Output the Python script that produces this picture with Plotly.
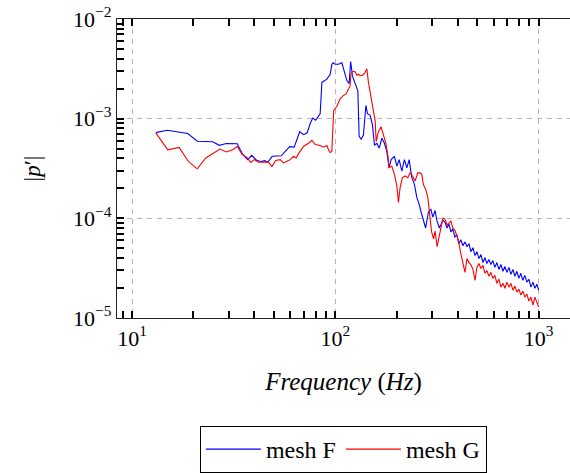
import plotly.graph_objects as go

# ---------------- data ----------------
freq_F = [13.09, 14.91, 18.80, 20.94, 24.95, 26.85, 29.06, 32.91, 35.03, 37.07,
          38.79, 40.96, 42.95, 44.94, 46.49, 48.92, 54.17, 56.36, 59.63, 62.75,
          66.76, 69.85, 72.67, 75.19, 77.35, 80.02, 84.20, 85.84, 90.83, 94.29,
          96.11, 97.54, 99.77, 103.56, 105.58, 107.62, 109.22, 111.10, 113.64, 116.90,
          118.91, 121.34, 125.11, 129.0, 130.9, 133.9, 137.4, 141.3, 143.8, 148.3,
          152.2, 155.7, 160.0, 164.2, 169.3, 174.3, 179.1, 183.8, 188.0, 195.2,
          200.6, 205.9, 212.3, 218.6, 224.7, 230.6, 237.7, 244.8, 251.5, 258.2,
          264.1, 271.0, 277.9, 286.8, 294.7, 301.4, 309.4, 315.4, 324.8,
          330, 338, 346, 354, 362, 370, 378, 387, 396, 405,
          414, 424, 434, 444, 454, 464, 475, 486, 497, 508,
          520, 532, 544, 556, 569, 582, 595, 609, 623, 637,
          652, 667, 682, 698, 714, 730, 747, 764, 781, 799,
          817, 836, 855, 875, 895, 916, 937, 958, 980, 1000]
p_F = [7.24e-4, 7.66e-4, 7.09e-4, 5.94e-4, 5.87e-4, 5.40e-4, 5.63e-4, 5.61e-4, 4.38e-4, 3.88e-4,
       4.29e-4, 3.83e-4, 3.72e-4, 3.79e-4, 3.65e-4, 4.19e-4, 4.24e-4, 4.62e-4, 5.24e-4, 5.18e-4,
       7.40e-4, 6.91e-4, 7.21e-4, 8.94e-4, 1.014e-3, 9.64e-4, 1.123e-3, 2.31e-3, 2.49e-3, 2.79e-3,
       3.51e-3, 3.64e-3, 3.51e-3, 3.51e-3, 3.56e-3, 3.64e-3, 3.27e-3, 2.79e-3, 2.44e-3, 2.25e-3,
       3.75e-3, 2.67e-3, 2.22e-3, 1.90e-3, 6.65e-4, 6.21e-4, 6.85e-4, 1.357e-3, 1.123e-3, 1.080e-3,
       8.60e-4, 5.45e-4, 5.67e-4, 5.06e-4, 6.36e-4, 5.67e-4, 4.69e-4, 3.21e-4, 3.88e-4, 4.19e-4,
       3.34e-4, 3.88e-4, 2.98e-4, 3.88e-4, 3.21e-4, 3.88e-4, 2.56e-4, 2.19e-4, 1.62e-4, 1.39e-4,
       1.151e-4, 9.82e-5, 8.00e-5, 1.151e-4, 1.242e-4, 1.028e-4, 1.197e-4, 9.53e-5, 8.00e-5,
       8.57e-5, 9.60e-5, 9.17e-5, 8.00e-5, 8.76e-5, 7.30e-5, 7.82e-5, 6.52e-5, 6.82e-5, 5.56e-5,
       6.09e-5, 5.31e-5, 5.81e-5, 5.19e-5, 5.56e-5, 4.63e-5, 5.07e-5, 4.23e-5, 4.63e-5, 3.95e-5,
       4.33e-5, 3.60e-5, 4.04e-5, 3.52e-5, 3.86e-5, 3.44e-5, 3.77e-5, 3.22e-5, 3.60e-5, 3.07e-5,
       3.44e-5, 2.94e-5, 3.29e-5, 2.87e-5, 3.22e-5, 2.74e-5, 3.07e-5, 2.62e-5, 2.94e-5, 2.50e-5,
       2.81e-5, 2.39e-5, 2.68e-5, 2.29e-5, 2.45e-5, 2.04e-5, 2.29e-5, 1.99e-5, 2.18e-5, 1.90e-5]

freq_G = [13.09, 14.99, 17.04, 18.97, 20.94, 23.05, 25.00, 27.07, 29.06, 31.28,
          32.91, 34.71, 36.74, 38.35, 39.90, 41.90, 44.33, 46.92, 48.75, 50.87,
          53.56, 55.59, 57.77, 59.97, 62.25, 64.19, 65.88, 69.70, 73.75, 76.66,
          79.57, 84.20, 87.40, 90.83, 92.48, 94.29, 96.11, 98.10, 101.7, 105.58,
          108.9, 113.0, 116.0, 118.2, 119.2, 121.9, 125.11, 127.6, 129.9, 132.4,
          136.5, 140.1, 142.8, 145.4, 151.2, 156.9, 158.7, 162.8, 167.9, 172.3,
          177.1, 181.1, 183.8, 189.5, 195.2, 200.6, 204.2, 208.2, 213.7, 220.3,
          227.2, 233.1, 239.3, 246.7, 254.3, 261.1, 266.1, 271.0, 278.5, 284.9,
          290.7, 297.4, 304.2, 309.4, 316.4, 324.8,
          330, 338, 346, 354, 362, 370, 378, 387, 396, 405,
          414, 424, 434, 444, 454, 464, 475, 486, 497, 508,
          520, 532, 544, 556, 569, 582, 595, 609, 623, 637,
          652, 667, 682, 698, 714, 730, 747, 764, 781, 799,
          817, 836, 855, 875, 895, 916, 937, 958, 980, 1000]
p_G = [7.21e-4, 4.87e-4, 5.14e-4, 3.70e-4, 3.14e-4, 4.03e-4, 4.48e-4, 4.95e-4, 4.64e-4, 4.87e-4,
       5.26e-4, 4.41e-4, 4.09e-4, 3.64e-4, 3.88e-4, 3.65e-4, 3.68e-4, 3.65e-4, 3.31e-4, 3.81e-4,
       3.88e-4, 3.60e-4, 3.74e-4, 3.88e-4, 4.19e-4, 4.03e-4, 4.46e-4, 5.26e-4, 5.67e-4, 6.07e-4,
       5.50e-4, 5.38e-4, 5.18e-4, 5.38e-4, 4.87e-4, 4.57e-4, 4.69e-4, 1.202e-3, 1.333e-3, 1.580e-3,
       1.693e-3, 1.772e-3, 1.984e-3, 2.13e-3, 2.79e-3, 2.99e-3, 2.96e-3, 2.73e-3, 2.79e-3, 2.70e-3,
       2.73e-3, 2.92e-3, 3.16e-3, 2.33e-3, 1.466e-3, 9.57e-4, 5.90e-4, 7.40e-4, 8.29e-4, 6.85e-4,
       5.67e-4, 4.32e-4, 3.21e-4, 3.34e-4, 2.76e-4, 2.12e-4, 1.446e-4, 2.03e-4, 2.56e-4, 2.66e-4,
       2.56e-4, 2.86e-4, 2.66e-4, 2.37e-4, 2.86e-4, 2.86e-4, 2.76e-4, 2.18e-4, 1.94e-4, 1.62e-4,
       1.151e-4, 7.30e-5, 6.23e-5, 7.47e-5, 5.19e-5, 6.82e-5,
       8.18e-5, 1.005e-4, 9.82e-5, 8.57e-5, 8.97e-5, 9.38e-5, 8.00e-5, 7.64e-5, 6.67e-5, 5.68e-5,
       4.42e-5, 3.60e-5, 2.87e-5, 3.95e-5, 3.60e-5, 3.44e-5, 3.07e-5, 2.39e-5, 3.22e-5, 3.52e-5,
       3.14e-5, 3.37e-5, 2.81e-5, 3.00e-5, 2.62e-5, 2.87e-5, 2.50e-5, 2.68e-5, 2.23e-5, 2.45e-5,
       2.04e-5, 2.23e-5, 1.99e-5, 2.29e-5, 2.04e-5, 2.23e-5, 1.90e-5, 2.09e-5, 1.82e-5, 1.95e-5,
       1.70e-5, 1.86e-5, 1.62e-5, 1.74e-5, 1.48e-5, 1.62e-5, 1.35e-5, 1.62e-5, 1.45e-5, 1.29e-5]

series_names = ["mesh F", "mesh G"]
x_title = "<i>Frequency</i> (<i>Hz</i>)"
y_title = "|<i>p</i>′|"

x_major = [10, 100, 1000]
x_major_text = ["10<sup>1</sup>", "10<sup>2</sup>", "10<sup>3</sup>"]
x_minor = [9, 20, 30, 40, 50, 60, 70, 80, 90, 200, 300, 400, 500, 600, 700, 800, 900]
y_major = [1e-5, 1e-4, 1e-3, 1e-2]
y_major_text = ["10<sup>−5</sup>", "10<sup>−4</sup>", "10<sup>−3</sup>", "10<sup>−2</sup>"]
y_minor = [2e-5, 3e-5, 4e-5, 5e-5, 6e-5, 7e-5, 8e-5, 9e-5,
           2e-4, 3e-4, 4e-4, 5e-4, 6e-4, 7e-4, 8e-4, 9e-4,
           2e-3, 3e-3, 4e-3, 5e-3, 6e-3, 7e-3, 8e-3, 9e-3]

# all tick positions on the main axes; labels only at decades
x_tickvals = x_major + x_minor
x_ticktext = x_major_text + [""] * len(x_minor)
y_tickvals = y_major + y_minor
y_ticktext = y_major_text + [""] * len(y_minor)

# ---------------- figure ----------------
FONT = "Liberation Serif"
X_RANGE = [0.926, 3.154]
Y_RANGE = [-5, -2]

fig = go.Figure()
# invisible copy on the overlay axes (they only carry the dashed decade grid)
fig.add_trace(go.Scatter(x=freq_F, y=p_F, xaxis="x2", yaxis="y2", mode="lines",
                         line=dict(color="rgba(0,0,0,0)", width=0),
                         showlegend=False, hoverinfo="skip"))
fig.add_trace(go.Scatter(x=freq_F, y=p_F, mode="lines", name=series_names[0],
                         line=dict(color="#0000ff", width=1.1)))
fig.add_trace(go.Scatter(x=freq_G, y=p_G, mode="lines", name=series_names[1],
                         line=dict(color="#ff0000", width=1.1)))

main_common = dict(
    type="log", showgrid=False,
    showline=True, linecolor="#222", linewidth=1.2,
    ticks="inside", ticklen=7, tickcolor="black", tickwidth=1.5,
    tickfont=dict(family=FONT, size=22, color="black"),
    zeroline=False, tickmode="array",
)
grid_common = dict(
    type="log", showgrid=True, gridcolor="#b4b4b4", gridwidth=1, griddash="5px,5px",
    showline=False, zeroline=False, ticks="", showticklabels=False, tickmode="array",
)

fig.update_layout(
    width=570, height=473,
    margin=dict(l=117, r=0, t=19, b=151),
    paper_bgcolor="white", plot_bgcolor="white",
    showlegend=True,
    xaxis=dict(**main_common, range=X_RANGE, mirror="ticks",
               tickvals=x_tickvals, ticktext=x_ticktext,
               title=dict(text=x_title, font=dict(family=FONT, size=25, color="black"),
                          standoff=22)),
    yaxis=dict(**main_common, range=Y_RANGE, mirror=False,
               tickvals=y_tickvals, ticktext=y_ticktext,
               title=dict(text=y_title, font=dict(family=FONT, size=23, color="black"),
                          standoff=26)),
    xaxis2=dict(**grid_common, range=X_RANGE, overlaying="x", anchor="y2",
                tickvals=x_major),
    yaxis2=dict(**grid_common, range=Y_RANGE, overlaying="y", anchor="x2",
                tickvals=y_major),
    legend=dict(orientation="h", x=0.183, y=-0.363, xanchor="left", yanchor="top",
                bordercolor="black", borderwidth=1, bgcolor="white",
                font=dict(family=FONT, size=24, color="black"),
                itemwidth=55, tracegroupgap=0),
)

fig.write_html("out.html")
